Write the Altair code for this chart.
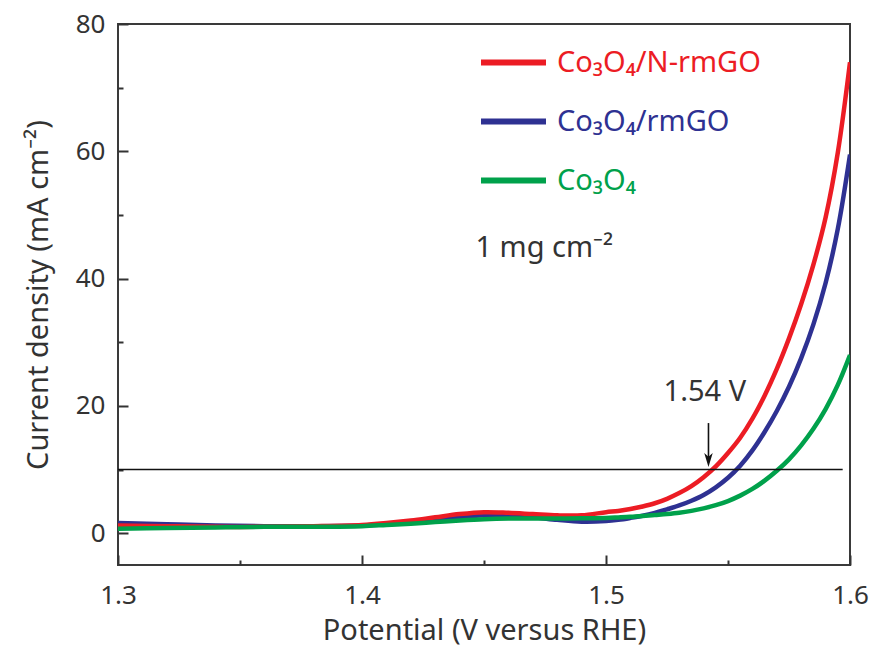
import altair as alt
import pandas as pd

# ---------------- data ----------------
potential = [1.30, 1.32, 1.34, 1.36, 1.38,
             1.40, 1.41, 1.42, 1.43, 1.44, 1.45, 1.46, 1.47, 1.48, 1.49,
             1.500, 1.505, 1.510, 1.515, 1.520, 1.525, 1.530, 1.535, 1.540, 1.545,
             1.550, 1.555, 1.560, 1.565, 1.570, 1.575, 1.580, 1.585, 1.590, 1.595, 1.600]
red_vals = [1.2, 1.1, 1.0, 1.0, 1.1,
            1.3, 1.6, 2.0, 2.5, 3.0, 3.3, 3.2, 3.0, 2.8, 2.8,
            3.3, 3.5, 3.8, 4.2, 4.7, 5.4, 6.3, 7.4, 8.8, 10.5,
            12.6, 15.0, 18.0, 21.6, 25.8, 30.6, 36.0, 42.2, 49.6, 59.8, 74.0]
blue_vals = [1.6, 1.4, 1.2, 1.1, 1.1,
             1.2, 1.4, 1.7, 2.1, 2.5, 2.8, 2.7, 2.5, 2.1, 1.8,
             1.9, 2.1, 2.4, 2.75, 3.2, 3.75, 4.35, 5.1, 6.0, 7.2,
             8.7, 10.6, 13.0, 15.9, 19.2, 23.0, 27.5, 32.8, 39.3, 47.8, 59.5]
green_vals = [0.7, 0.8, 0.9, 1.0, 1.0,
              1.1, 1.3, 1.5, 1.75, 2.0, 2.2, 2.3, 2.3, 2.3, 2.35,
              2.4, 2.48, 2.57, 2.7, 2.85, 3.0, 3.2, 3.5, 3.9, 4.4,
              5.05, 5.9, 6.95, 8.25, 9.8, 11.6, 13.8, 16.4, 19.5, 23.3, 28.0]

series_names = ["Co₃O₄/N-rmGO", "Co₃O₄/rmGO", "Co₃O₄"]
series_colors = ["#ec1c24", "#2e3192", "#00a14b"]

x_ticks = [1.3, 1.35, 1.4, 1.45, 1.5, 1.55, 1.6]   # every 0.1 labelled
y_ticks = [0, 10, 20, 30, 40, 50, 60, 70, 80]      # every 20 labelled
x_domain = [1.3, 1.6]
y_domain = [-5, 80]

ref_level = [10]
ref_x_start = [1.3]
ref_x_end = [1.597]
arrow_x = [1.542]
arrow_top = [17.3]
arrow_head = [11.5]
arrow_label = ["1.54 V"]
arrow_label_x = [1.5405]
arrow_label_y = [22.2]
loading_label = ["1 mg cm⁻²"]
loading_x = [1.4465]
loading_y = [44.8]

# ---------------- tables ----------------
rows = []
for name, vals in zip(series_names, [red_vals, blue_vals, green_vals]):
    for p, v in zip(potential, vals):
        rows.append({"potential": p, "current": v, "series": name})
curves = pd.DataFrame(rows)

ref_df = pd.DataFrame({"potential": ref_x_start, "x2": ref_x_end, "current": ref_level})
arrow_df = pd.DataFrame({"potential": arrow_x, "current": arrow_top, "y2": arrow_head})
arrow_lbl_df = pd.DataFrame({"potential": arrow_label_x, "current": arrow_label_y, "t": arrow_label})
load_df = pd.DataFrame({"potential": loading_x, "current": loading_y, "t": loading_label})

FONT = "Noto Sans"
TXT = "#333333"
xs = alt.Scale(domain=x_domain, nice=False, zero=False)
ys = alt.Scale(domain=y_domain, nice=False, zero=False)

x_minor_test = "abs(datum.value*10 - round(datum.value*10)) > 0.01"
y_minor_test = "datum.value % 20 != 0"

x_axis = alt.Axis(values=x_ticks, domain=False, grid=False, labelFlush=False,
                  tickSize={"expr": f"{x_minor_test} ? -5 : -10"},
                  labelExpr=f"{x_minor_test} ? '' : format(datum.value, '.1f')",
                  labelPadding=27, labelFontSize=26, labelFont=FONT,
                  labelColor=TXT, tickColor=TXT, tickWidth=2,
                  title="Potential (V versus RHE)", titleFont=FONT, titleFontSize=29,
                  titleFontWeight="normal", titleColor=TXT, titlePadding=8)
y_axis = alt.Axis(values=y_ticks, domain=False, grid=False, labelFlush=False,
                  tickSize={"expr": f"{y_minor_test} ? -5 : -10"},
                  labelExpr=f"{y_minor_test} ? '' : format(datum.value, 'd')",
                  labelPadding=23, labelFontSize=26, labelFont=FONT,
                  labelColor=TXT, tickColor=TXT, tickWidth=2,
                  title="Current density (mA cm⁻²)", titleFont=FONT, titleFontSize=29,
                  titleFontWeight="normal", titleColor=TXT, titlePadding=22)

X = alt.X("potential:Q", scale=xs, axis=x_axis)
Y = alt.Y("current:Q", scale=ys, axis=y_axis)

color = alt.Color(
    "series:N",
    scale=alt.Scale(domain=series_names, range=series_colors),
    legend=alt.Legend(
        title=None, orient="none", legendX=360, legendY=9,
        symbolType="stroke", symbolSize=4225, symbolStrokeWidth=6,
        labelFontSize=29, labelFont=FONT, labelOffset=8, labelLimit=400,
        rowPadding=0, clipHeight=59, padding=0,
        labelColor={"expr": "scale('color', datum.value)"},
    ),
)

base = alt.Chart(curves)


def curve_layer(name):
    return base.transform_filter(alt.datum.series == name).mark_line(
        strokeWidth=4.5, interpolate="catmull-rom", clip=True
    ).encode(x=X, y=Y, color=color)


blue = curve_layer(series_names[1])
red = curve_layer(series_names[0])
green = curve_layer(series_names[2])

ref_line = alt.Chart(ref_df).mark_rule(color="#111111", strokeWidth=1.6).encode(
    x=X, x2="x2:Q", y=Y)

shaft = alt.Chart(arrow_df).mark_rule(color="#111111", strokeWidth=1.6).encode(
    x=X, y=Y, y2="y2:Q")

head = alt.Chart(arrow_df).mark_point(
    shape="M-0.6,-1L0,1L0.6,-1L0,-0.45Z", filled=True, size=200, color="#111111", opacity=1
).encode(x=X, y=alt.Y("y2:Q", scale=ys, axis=y_axis))

arrow_text = alt.Chart(arrow_lbl_df).mark_text(
    font=FONT, fontSize=29, color=TXT, align="center", baseline="middle"
).encode(x=X, y=Y, text="t:N")

load_text = alt.Chart(load_df).mark_text(
    font=FONT, fontSize=29, color=TXT, align="left", baseline="middle"
).encode(x=X, y=Y, text="t:N")

chart = alt.layer(blue, red, green, ref_line, shaft, head, arrow_text, load_text).properties(
    width=732, height=541,
    padding={"left": 118, "top": 24, "right": 22, "bottom": 84},
    autosize=alt.AutoSizeParams(type="none"),
    background="white",
).configure_view(stroke="#3a3a3a", strokeWidth=2)

chart.save("out.html", embed_options={"renderer": "svg", "actions": False})
